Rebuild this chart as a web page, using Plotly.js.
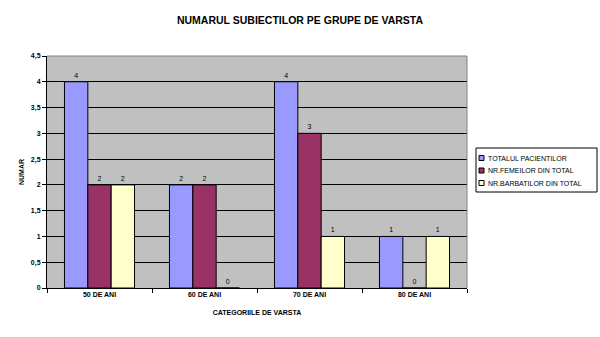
<!DOCTYPE html>
<html><head><meta charset="utf-8">
<script src="https://cdn.plot.ly/plotly-3.0.1.min.js"></script>
<style>html,body{margin:0;padding:0;background:#fff}#c{width:600px;height:337px}</style>
</head><body><div id="c"></div>
<script>
const categories = ["50 DE ANI", "60 DE ANI", "70 DE ANI", "80 DE ANI"];
const seriesNames = ["TOTALUL PACIENTILOR", "NR.FEMEILOR DIN TOTAL", "NR.BARBATILOR DIN TOTAL"];
const totalPacienti = [4, 2, 4, 1];
const nrFemei = [2, 2, 3, 0];
const nrBarbati = [2, 0, 1, 1];
const colors = ["#9999FF", "#993366", "#FFFFCC"];
const yTickVals = [0, 0.5, 1, 1.5, 2, 2.5, 3, 3.5, 4, 4.5];
const yTickText = ["0", "0,5", "1", "1,5", "2", "2,5", "3", "3,5", "4", "4,5"];

const font = "Liberation Sans, Arial, sans-serif";
const W = 600, H = 337;
const M = {l: 47, r: 133, t: 56, b: 49};
const PW = W - M.l - M.r, PH = H - M.t - M.b;
const px = x => (x - M.l) / PW;          // pixel -> paper x
const py = y => (H - M.b - y) / PH;      // pixel -> paper y

const allSeries = [totalPacienti, nrFemei, nrBarbati];
const traces = allSeries.map((vals, i) => ({
  type: "bar",
  name: seriesNames[i],
  x: categories,
  y: vals,
  text: vals.map(String),
  textposition: "outside",
  textfont: {family: font, size: 7, color: "#000"},
  cliponaxis: false,
  marker: {color: colors[i], line: {color: "#000", width: 1}}
}));

// Legend built from seriesNames/colors
const legBox = {x0: 476, x1: 597, y0: 148, y1: 192};
const legRows = [158, 170.5, 183];
const shapes = [
  {type: "line", xref: "x domain", yref: "y domain", x0: 0, x1: 1, y0: 1, y1: 1, line: {color: "#808080", width: 1}},
  {type: "line", xref: "x domain", yref: "y domain", x0: 1, x1: 1, y0: 0, y1: 1, line: {color: "#808080", width: 1}},
  {type: "rect", xref: "paper", yref: "paper", x0: px(legBox.x0), x1: px(legBox.x1), y0: py(legBox.y0), y1: py(legBox.y1),
   line: {color: "#000", width: 1}, fillcolor: "#fff", layer: "above"}
];
const annotations = [];
seriesNames.forEach((name, i) => {
  const cy = legRows[i];
  shapes.push({type: "rect", xref: "paper", yref: "paper", x0: px(479), x1: px(484), y0: py(cy - 2.5), y1: py(cy + 2.5),
    line: {color: "#000", width: 1}, fillcolor: colors[i], layer: "above"});
  annotations.push({xref: "paper", yref: "paper", x: px(486), y: py(cy), xanchor: "left", yanchor: "middle",
    text: name, showarrow: false, font: {family: font, size: 7, color: "#000"}});
});

const layout = {
  width: W, height: H,
  margin: Object.assign({autoexpand: false}, M),
  paper_bgcolor: "#fff",
  plot_bgcolor: "#C0C0C0",
  barmode: "group",
  bargap: 0.333,
  bargroupgap: 0,
  showlegend: false,
  title: {text: "<b>NUMARUL SUBIECTILOR PE GRUPE DE VARSTA</b>", font: {family: font, size: 10.5, color: "#000"}, x: 0.5, xanchor: "center", y: 0.94, yanchor: "middle"},
  xaxis: {
    type: "category",
    showline: true, linecolor: "#000", linewidth: 1,
    ticks: "outside", tickson: "boundaries", ticklen: 4, tickcolor: "#000",
    showgrid: false,
    tickfont: {family: font, size: 7, color: "#000", weight: "bold"},
    title: {text: "<b>CATEGORIILE DE VARSTA</b>", font: {family: font, size: 7, color: "#000"}, standoff: 12}
  },
  yaxis: {
    range: [0, 4.5],
    tickvals: yTickVals, ticktext: yTickText,
    showline: true, linecolor: "#000", linewidth: 1,
    ticks: "outside", ticklen: 4, tickcolor: "#000",
    showgrid: true, gridcolor: "#000", gridwidth: 1,
    zeroline: false,
    tickfont: {family: font, size: 7, color: "#000", weight: "bold"},
    title: {text: "<b>NUMAR</b>", font: {family: font, size: 7, color: "#000"}, standoff: 5}
  },
  shapes: shapes,
  annotations: annotations
};
Plotly.newPlot("c", traces, layout, {displayModeBar: false, staticPlot: true});
</script>
</body></html>
